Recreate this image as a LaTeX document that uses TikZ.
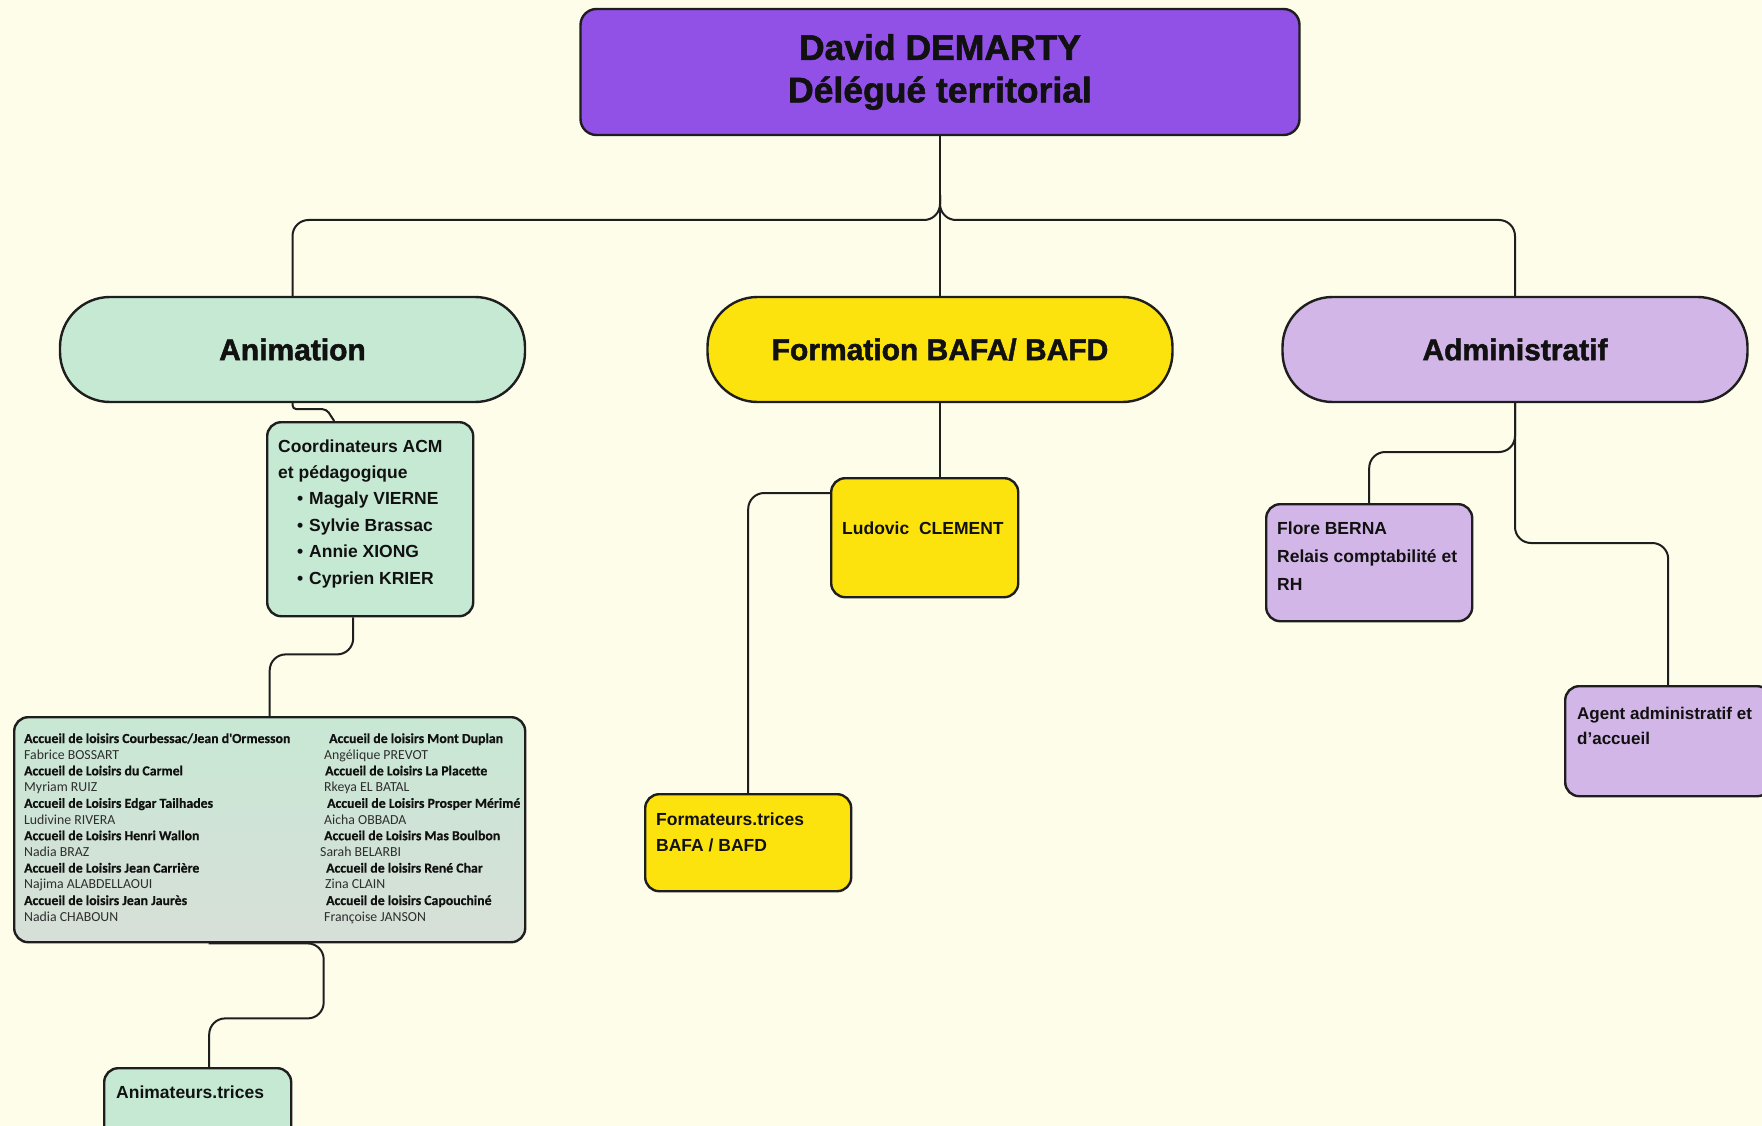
\documentclass[tikz,border=0pt]{standalone}
\usepackage{fontspec}
\setmainfont{Liberation Sans}
\newfontfamily\heavyfont[UprightFont={* Bold}, UprightFeatures={FakeBold=1.6}]{Liberation Sans}
\newfontfamily\calfont{Carlito}
\newfontfamily\calheavy[UprightFont={* Bold}, UprightFeatures={FakeBold=0.6}]{Carlito}
\definecolor{bg}{HTML}{FEFDEA}
\definecolor{purp}{HTML}{9150E6}
\definecolor{mint}{HTML}{C6E9D3}
\definecolor{bigtop}{HTML}{C8E8D4}
\definecolor{bigbot}{HTML}{D7DFD8}
\definecolor{yel}{HTML}{FDE30E}
\definecolor{lav}{HTML}{D3B6E8}
\definecolor{lc}{HTML}{1E1E1E}
\definecolor{tc}{HTML}{111111}
\definecolor{nc}{HTML}{2E2E2E}
\tikzset{
  box/.style={draw=lc, line width=2.4pt, rounded corners=14pt, anchor=north west, inner sep=0pt},
  pill/.style={draw=lc, line width=2.4pt, rounded corners=50pt, minimum width=465pt, minimum height=105pt,
    text=tc, font=\heavyfont\fontsize{30}{36}\selectfont},
  conn/.style={draw=lc, line width=2pt, rounded corners=16pt},
  txt/.style={anchor=base west, inner sep=0pt, text=tc, font=\fontsize{17.5}{21}\selectfont\bfseries},
  bl/.style={anchor=base west, inner sep=0pt, text=tc, font=\calheavy\fontsize{13.8}{16}\selectfont},
  nm/.style={anchor=base west, inner sep=0pt, text=nc, font=\calfont\fontsize{13.8}{16}\selectfont},
}
\begin{document}
\begin{tikzpicture}[x=1pt,y=-1pt]
\useasboundingbox[fill=bg] (0,0) rectangle (1762,1126);

% top
\node[draw=lc, line width=2.4pt, rounded corners=16pt, fill=purp, minimum width=719pt, minimum height=126pt,
  align=center, text=tc, font=\heavyfont\fontsize{35.5}{42.5}\selectfont] (top) at (940,72) {David DEMARTY\\Délégué territorial};

% pills
\node[pill, fill=mint] (anim) at (292.5,349.5) {Animation};
\node[pill, fill=yel] (form) at (940,349.5) {Formation BAFA/ BAFD};
\node[pill, fill=lav] (admin) at (1515,349.5) {Administratif};

% connectors top
\draw[conn] (top.south) -- (form.north);
\draw[conn] (940,195) -- (940,220) -- (292.5,220) -- (anim.north);
\draw[conn] (940,195) -- (940,220) -- (1515,220) -- (admin.north);

% Animation branch
\node[box, fill=mint, minimum width=206pt, minimum height=194pt] (coord) at (266,421) {};
\draw[conn, rounded corners=4pt] (anim.south) -- ++(0,6) -- ++(34,0) -- ([xshift=-36pt]coord.north);
\node[txt] (co1) at (278,452) {Coordinateurs ACM};
\node[txt] (co2) at (278,478) {et pédagogique};
\node[txt] (b1) at (297,504.5) {•};
\node[txt] (n1) at (309,504.5) {Magaly VIERNE};
\node[txt] (b2) at (297,531) {•};
\node[txt] (n2) at (309,531) {Sylvie Brassac};
\node[txt] (b3) at (297,557.5) {•};
\node[txt] (n3) at (309,557.5) {Annie XIONG};
\node[txt] (b4) at (297,584) {•};
\node[txt] (n4) at (309,584) {Cyprien KRIER};

\node[box, top color=bigtop, bottom color=bigbot, minimum width=511pt, minimum height=225pt] (big) at (13,716) {};
\draw[conn] ([xshift=-17pt]coord.south) -- ++(0,37) -| (big.north);

\begin{scope}
\clip[rounded corners=14pt] (13,716) rectangle (523,941);
\node[bl] (l1) at (24,743) {Accueil de loisirs Courbessac/Jean d'Ormesson};
\node[nm] (l2) at (24,759.2) {Fabrice BOSSART};
\node[bl] (l3) at (24,775.4) {Accueil de Loisirs du Carmel};
\node[nm] (l4) at (24,791.6) {Myriam RUIZ};
\node[bl] (l5) at (24,807.8) {Accueil de Loisirs Edgar Tailhades};
\node[nm] (l6) at (24,824) {Ludivine RIVERA};
\node[bl] (l7) at (24,840.2) {Accueil de Loisirs Henri Wallon};
\node[nm] (l8) at (24,856.4) {Nadia BRAZ};
\node[bl] (l9) at (24,872.6) {Accueil de Loisirs Jean Carrière};
\node[nm] (l10) at (24,888.8) {Najima ALABDELLAOUI};
\node[bl] (l11) at (24,905) {Accueil de loisirs Jean Jaurès};
\node[nm] (l12) at (24,921.2) {Nadia CHABOUN};
\node[bl] (r1) at (329,743) {Accueil de loisirs Mont Duplan};
\node[nm] (r2) at (324,759.2) {Angélique PREVOT};
\node[bl] (r3) at (325,775.4) {Accueil de Loisirs La Placette};
\node[nm] (r4) at (324,791.6) {Rkeya EL BATAL};
\node[bl] (r5) at (327,807.8) {Accueil de Loisirs Prosper Mérimé};
\node[nm] (r6) at (324,824) {Aicha OBBADA};
\node[bl] (r7) at (324,840.2) {Accueil de Loisirs Mas Boulbon};
\node[nm] (r8) at (320,856.4) {Sarah BELARBI};
\node[bl] (r9) at (326,872.6) {Accueil de loisirs René Char};
\node[nm] (r10) at (325,888.8) {Zina CLAIN};
\node[bl] (r11) at (326,905) {Accueil de loisirs Capouchiné};
\node[nm] (r12) at (324,921.2) {Françoise JANSON};
\end{scope}

\node[box, fill=mint, minimum width=187pt, minimum height=80pt] (anima) at (103,1067) {};
\draw[conn] ([xshift=-61pt]big.south) -- ([xshift=54pt]big.south) -- ++(0,75) -| ([xshift=11.5pt]anima.north);
\node[txt] (ant) at (116,1098) {Animateurs.trices};

% Formation branch
\node[box, fill=yel, minimum width=187pt, minimum height=119pt] (ludo) at (830,477) {};
\draw[conn] (form.south) -- (ludo.north -| form.south);
\node[txt] (lut) at (842,534) {Ludovic~~CLEMENT};
\node[box, fill=yel, minimum width=206pt, minimum height=97pt] (forma) at (644,793) {};
\draw[conn] ([yshift=-16pt]ludo.north west) -| (forma.north);
\node[txt] (fo1) at (656,825) {Formateurs.trices};
\node[txt] (fo2) at (656,851) {BAFA / BAFD};

% Administratif branch
\node[box, fill=lav, minimum width=206pt, minimum height=117pt] (flore) at (1265,503) {};
\draw[conn] (admin.south) -- (1515,452) -| (flore.north);
\node[txt] (fl1) at (1277,534) {Flore BERNA};
\node[txt] (fl2) at (1277,562) {Relais comptabilité et};
\node[txt] (fl3) at (1277,590) {RH};
\node[box, fill=lav, minimum width=206pt, minimum height=110pt] (agent) at (1564,685) {};
\draw[conn] (admin.south) -- (1515,543) -| (agent.north);
\node[txt, font=\fontsize{17}{21}\selectfont\bfseries] (ag1) at (1577,719) {Agent administratif et};
\node[txt, font=\fontsize{17}{21}\selectfont\bfseries] (ag2) at (1577,744) {d’accueil};
\end{tikzpicture}
\end{document}
